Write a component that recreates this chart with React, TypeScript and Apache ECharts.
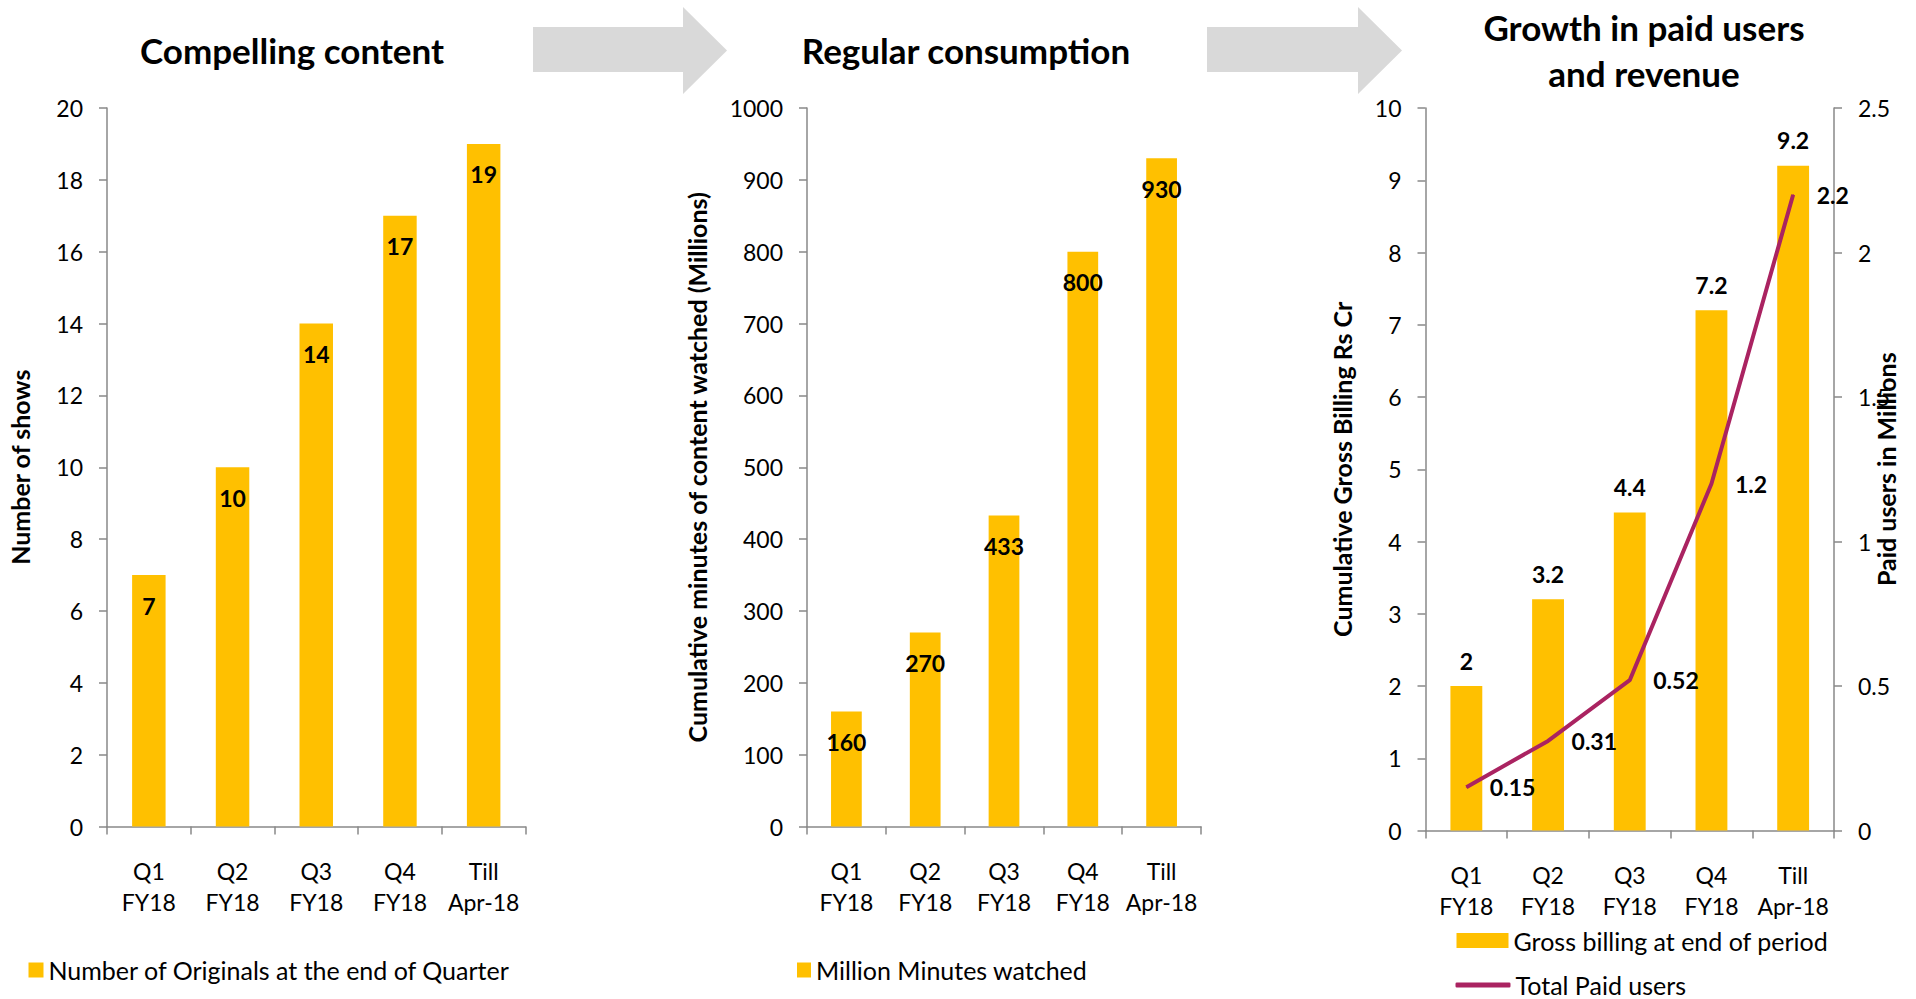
import React, { useEffect, useRef } from 'react';
import * as echarts from 'echarts';

// Periods shown on every x axis
const categories = ['Q1\nFY18', 'Q2\nFY18', 'Q3\nFY18', 'Q4\nFY18', 'Till\nApr-18'];

// Number of original shows at the end of each quarter
const originals = [7, 10, 14, 17, 19];

// Cumulative minutes watched, millions
const minutesWatched = [160, 270, 433, 800, 930];

// Cumulative gross billing, Rs Cr
const grossBilling = [2, 3.2, 4.4, 7.2, 9.2];

// Total paid users, millions
const paidUsers = [0.15, 0.31, 0.52, 1.2, 2.2];

const FONT = 'Lato, "Open Sans", sans-serif';
const BAR_COLOR = '#FFC000';
const LINE_COLOR = '#AA2361';
const AXIS_COLOR = '#898989';
const ARROW_COLOR = '#D9D9D9';

const axisLineStyle = { color: AXIS_COLOR, width: 1.5 };

function valueAxis(
  gridIndex: number,
  max: number,
  interval: number,
  name: string,
  nameGap: number,
  position: 'left' | 'right' = 'left'
) {
  return {
    type: 'value',
    gridIndex,
    position,
    min: 0,
    max,
    interval,
    name,
    nameLocation: 'middle',
    nameGap,
    nameMoveOverlap: false,
    nameTextStyle: { fontFamily: FONT, fontSize: 25, fontWeight: 'bold', color: '#000' },
    axisLine: { show: true, lineStyle: axisLineStyle },
    axisTick: { show: true, length: 8, lineStyle: axisLineStyle },
    axisLabel: {
      margin: 24,
      fontFamily: FONT,
      fontSize: 23,
      color: '#000',
      formatter: (v: number) => String(v),
    },
    splitLine: { show: false },
  };
}

function categoryAxis(gridIndex: number) {
  return {
    type: 'category',
    gridIndex,
    data: categories,
    axisLine: { show: true, lineStyle: axisLineStyle },
    axisTick: { show: true, length: 8, lineStyle: axisLineStyle },
    axisLabel: {
      interval: 0,
      margin: 29,
      fontFamily: FONT,
      fontSize: 23,
      lineHeight: 31,
      color: '#000',
    },
  };
}

function legendAt(left: number, centerY: number, name: string, w: number, h: number, icon: string) {
  return {
    left,
    top: centerY - 13,
    padding: 0,
    itemWidth: w,
    itemHeight: h,
    data: [{ name, icon }],
    textStyle: { fontFamily: FONT, fontSize: 25, color: '#000', lineHeight: 26 },
    selectedMode: false,
  };
}

function arrow(x0: number, xHead: number, xTip: number) {
  return {
    type: 'polygon',
    silent: true,
    shape: {
      points: [
        [x0, 27],
        [xHead, 27],
        [xHead, 7],
        [xTip, 50.5],
        [xHead, 94],
        [xHead, 72],
        [x0, 72],
      ],
    },
    style: { fill: ARROW_COLOR },
  };
}

function heading(x: number, y: number, text: string) {
  return {
    type: 'text',
    x,
    y,
    silent: true,
    style: {
      text,
      fontFamily: FONT,
      fontSize: 35,
      fontWeight: 'bold',
      fill: '#000',
      align: 'center',
      verticalAlign: 'middle',
    },
  };
}

const barLabel = {
  show: true,
  fontFamily: FONT,
  fontSize: 23,
  fontWeight: 'bold',
  color: '#000',
};

const option = {
  animation: false,
  backgroundColor: '#fff',
  grid: [
    { left: 107, top: 108, width: 418.5, height: 718.5 },
    { left: 807, top: 108, width: 394, height: 718.5 },
    { left: 1425.5, top: 108, width: 408.5, height: 722.5 },
  ],
  xAxis: [categoryAxis(0), categoryAxis(1), categoryAxis(2)],
  yAxis: [
    valueAxis(0, 20, 2, 'Number of shows', 75),
    valueAxis(1, 1000, 100, 'Cumulative minutes of content watched (Millions)', 98),
    valueAxis(2, 10, 1, 'Cumulative Gross Billing Rs Cr', 71),
    valueAxis(2, 2.5, 0.5, 'Paid users in Millions', 39, 'right'),
  ],
  legend: [
    legendAt(28.5, 970, 'Number of Originals at the end of Quarter', 15, 15, 'rect'),
    legendAt(797, 970, 'Million Minutes watched', 14, 15, 'rect'),
    legendAt(1456.5, 940.5, 'Gross billing at end of period', 52, 15, 'rect'),
    legendAt(1455.5, 985, 'Total Paid users', 55, 5, 'roundRect'),
  ],
  series: [
    {
      name: 'Number of Originals at the end of Quarter',
      type: 'bar',
      xAxisIndex: 0,
      yAxisIndex: 0,
      data: originals,
      barWidth: '40%',
      itemStyle: { color: BAR_COLOR },
      label: { ...barLabel, position: 'insideTop', distance: 19 },
    },
    {
      name: 'Million Minutes watched',
      type: 'bar',
      xAxisIndex: 1,
      yAxisIndex: 1,
      data: minutesWatched,
      barWidth: '39%',
      itemStyle: { color: BAR_COLOR },
      label: { ...barLabel, position: 'insideTop', distance: 19 },
    },
    {
      name: 'Gross billing at end of period',
      type: 'bar',
      xAxisIndex: 2,
      yAxisIndex: 2,
      data: grossBilling,
      barWidth: '39%',
      itemStyle: { color: BAR_COLOR },
      label: { ...barLabel, position: 'top', distance: 14 },
    },
    {
      name: 'Total Paid users',
      type: 'line',
      xAxisIndex: 2,
      yAxisIndex: 3,
      data: paidUsers,
      symbol: 'circle',
      symbolSize: 1,
      itemStyle: { color: LINE_COLOR },
      lineStyle: { color: LINE_COLOR, width: 4 },
      label: { ...barLabel, position: 'right', distance: 23 },
      z: 5,
    },
  ],
  graphic: [
    arrow(533, 683, 727),
    arrow(1207, 1358, 1402),
    heading(292, 50, 'Compelling content'),
    heading(966, 50, 'Regular consumption'),
    heading(1644, 27, 'Growth in paid users'),
    heading(1644, 73, 'and revenue'),
  ],
};

export default function App() {
  const ref = useRef<HTMLDivElement>(null);

  useEffect(() => {
    if (!ref.current) return;
    const chart = echarts.init(ref.current, null, { renderer: 'svg' });
    chart.setOption(option as any);
    return () => chart.dispose();
  }, []);

  return (
    <div
      ref={ref}
      style={{
        position: 'fixed',
        left: 0,
        top: 0,
        width: 1916,
        height: 999,
        background: '#fff',
      }}
    />
  );
}
